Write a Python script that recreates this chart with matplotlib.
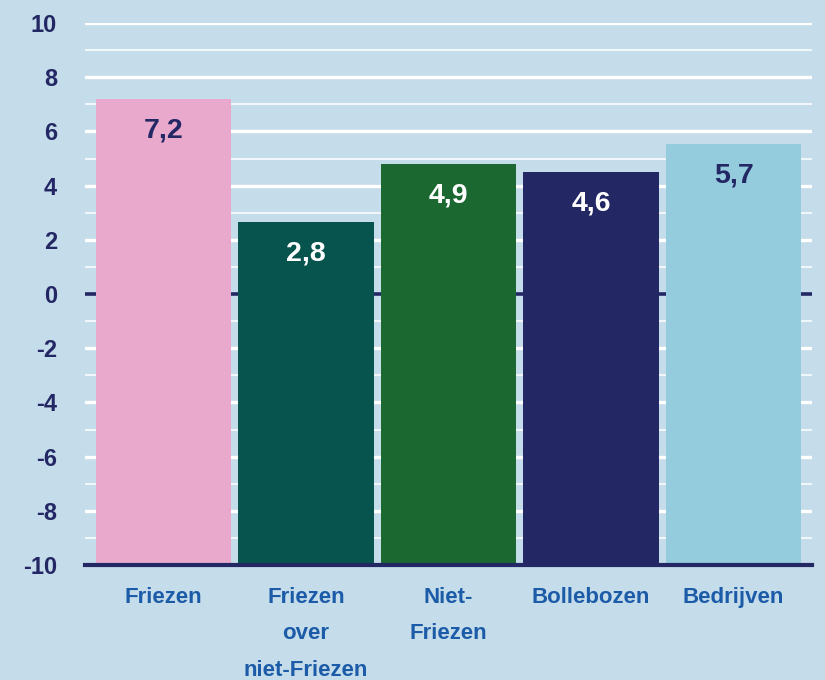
import matplotlib
matplotlib.use("Agg")
import matplotlib.pyplot as plt
import numpy as np

categories = ["Friezen", "Friezen\nover\nniet-Friezen", "Niet-\nFriezen", "Bollebozen", "Bedrijven"]
values = [7.2, 2.65, 4.8, 4.5, 5.55]
value_labels = ["7,2", "2,8", "4,9", "4,6", "5,7"]
bar_colors = ["#e8a9cc", "#07544e", "#1b6830", "#232764", "#94cbdd"]
label_colors = ["#232764", "#ffffff", "#ffffff", "#ffffff", "#232764"]
yticks = list(range(-10, 11, 2))

bg = "#c5dcea"
navy = "#232764"
blue = "#1b5ba7"

plt.rcParams['font.family'] = ['Liberation Sans', 'DejaVu Sans']
plt.rcParams['font.weight'] = 'bold'

fig = plt.figure(figsize=(8.25, 6.8), dpi=100)
fig.patch.set_facecolor(bg)
ax = fig.add_axes([85/825, 1 - 565/680, (812-85)/825, (565-23)/680])
ax.set_facecolor(bg)

ax.set_xlim(-0.55, 4.55)
ax.set_ylim(-10, 10)

# grid: thick at even, thin at odd
for y in range(-9, 11):
    if y == 0:
        continue
    lw = 2.4 if y % 2 == 0 else 1.1
    ax.axhline(y, color="white", lw=lw, zorder=1)
ax.axhline(0, color=navy, lw=2.6, zorder=1)

x = np.arange(len(values))
ax.bar(x, np.array(values) + 10, bottom=-10, width=0.95, color=bar_colors, zorder=2)

for xi, v, lab, c in zip(x, values, value_labels, label_colors):
    ax.text(xi, v - 1.17, lab, ha="center", va="center", fontsize=20.5,
            fontweight="bold", color=c, zorder=3)

ax.axhline(-10, color=navy, lw=3, zorder=4, clip_on=False)

for s in ax.spines.values():
    s.set_visible(False)

ax.set_yticks(yticks)
ax.set_yticklabels([str(t) for t in yticks], fontsize=17, fontweight="bold", color=navy)
ax.tick_params(axis="y", length=0, pad=20)
ax.set_xticks(x)
ax.set_xticklabels(categories, fontsize=16, fontweight="bold", color=blue, linespacing=1.95, va="top")
ax.tick_params(axis="x", length=0, pad=16)

fig.savefig("out.png", dpi=100, facecolor=bg)
